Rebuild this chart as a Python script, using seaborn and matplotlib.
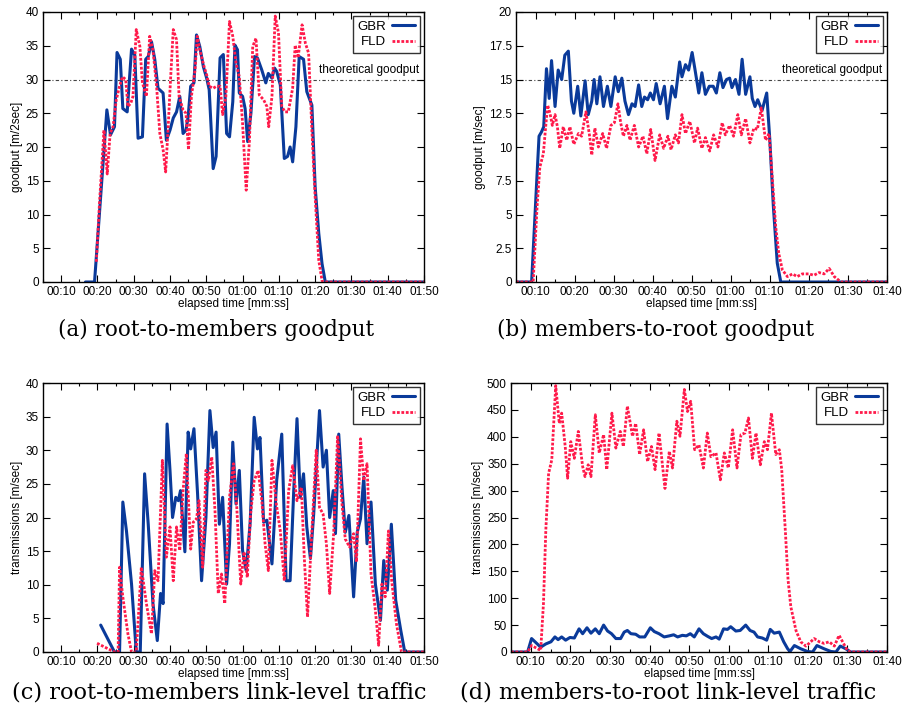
import numpy as np
import pandas as pd
import matplotlib
matplotlib.use("Agg")
import matplotlib.pyplot as plt
import seaborn as sns

# ---------------- data ----------------
# (a) root-to-members goodput
a_gbr_t = [16.7, 19.2, 22.6, 23.6, 24.7, 25.4, 26.3, 27.0, 28.2, 29.4, 30.3, 31.2, 32.4, 33.3, 34.0, 34.9, 35.8,
           36.7, 38.1, 39.0, 40.0, 40.9, 41.8, 42.7, 43.6, 44.4, 45.0, 45.7, 46.6, 47.3, 48.2, 49.2, 50.1, 50.8,
           51.9, 52.7, 53.8, 54.7, 55.6, 56.4, 57.3, 57.9, 58.6, 59.1, 60.0, 60.7, 61.4, 62.3, 63.3, 64.1, 65.3,
           66.4, 67.1, 68.1, 68.8, 69.4, 70.4, 71.5, 72.4, 73.1, 73.8, 74.7, 75.6, 76.8, 77.7, 79.1, 80.0, 81.0,
           81.9, 82.8, 110]
a_gbr_y = [0, 0, 25.5, 21.8, 23, 34, 33, 25.7, 25.2, 34.5, 33.6, 21.3, 21.5, 33, 33.4, 35.6, 33,
           28.7, 28, 21, 22.5, 24.3, 25.2, 27.5, 22, 22.5, 24.5, 29, 29.5, 36.6, 34.9, 31.9, 30.2, 28.5,
           16.8, 18.6, 33.2, 33.7, 22, 21.5, 26.7, 35.1, 34.4, 28, 27.5, 25.7, 20.8, 25, 33.4, 33.2, 31.4,
           29.5, 30.9, 30.2, 31.7, 31.2, 29.2, 18.3, 18.6, 20, 17.8, 23, 33.4, 33, 28.2, 26.2, 14.1, 7.2,
           2.7, 0, 0]
a_fld_t = [19.7, 20.6, 21.8, 22.7, 23.5, 24.3, 25.2, 26.1, 26.9, 27.8, 28.4, 29.2, 29.8, 30.7, 31.7, 32.4, 33.5,
           34.4, 35.3, 36.3, 37.2, 38.1, 38.8, 39.5, 40.1, 40.9, 41.8, 42.5, 43.6, 44.4, 45.1, 45.9, 46.9, 47.5,
           48.2, 49.4, 50.1, 50.8, 51.9, 52.8, 53.8, 54.5, 55.4, 56.4, 57.3, 58.2, 59.1, 60.0, 61.0, 61.9, 62.8,
           63.7, 64.6, 65.8, 66.7, 67.2, 68.1, 69.0, 69.9, 70.8, 71.7, 72.6, 73.8, 74.5, 75.3, 76.4, 77.3, 78.2,
           79.1, 80.0, 81.0, 81.9, 82.3, 110]
a_fld_y = [3, 12, 22.5, 16, 22, 23, 27, 29, 30.4, 30, 26, 26.5, 27.5, 37.4, 34.9, 29.5, 27.5,
           36.4, 34.4, 29, 22, 19.6, 16.3, 23, 29.5, 37.4, 35.9, 27.5, 25.5, 25, 19.6, 27.5, 31.4, 36.4,
           34.4, 31.9, 30.7, 29, 28.7, 29, 29, 24.8, 27.5, 38.6, 36.4, 32.4, 30.4, 23.5, 13.6, 21, 34.9,
           36.1, 27.7, 27, 26, 23, 27.5, 39.4, 36.9, 26, 25.2, 25.2, 28.7, 35.1, 33.2, 38.1, 35.4, 33.9,
           22.5, 12.6, 3.2, 0.2, 0, 0]

# (b) members-to-root goodput
b_gbr_t = [5, 9.0, 10.4, 10.9, 11.5, 12.1, 12.8, 13.5, 14.1, 15.0, 15.8, 16.7, 17.5, 18.4, 19.2, 19.8, 20.8, 21.6,
           22.7, 23.5, 24.4, 25.0, 25.7, 26.5, 27.4, 28.4, 29.3, 30.4, 31.2, 32.1, 32.9, 33.8, 34.7, 35.5, 36.4,
           37.2, 37.9, 38.7, 39.4, 40.2, 40.9, 41.9, 43.0, 43.8, 44.9, 45.8, 46.9, 47.5, 48.4, 49.2, 50.1, 50.8,
           51.8, 52.6, 53.5, 54.5, 55.5, 56.3, 57.2, 58.0, 58.9, 59.7, 60.3, 61.2, 62.1, 62.9, 63.8, 64.9, 65.5,
           66.2, 66.9, 68.0, 69.2, 70.0, 70.9, 71.9, 72.8, 100]
b_gbr_y = [0, 0, 8.0, 10.8, 11.1, 11.5, 15.8, 13.6, 16.4, 13, 15.7, 15, 16.8, 17.1, 13.4, 12.5, 14.5, 12.3,
           14.9, 12.4, 13.4, 15, 13.2, 15.2, 13, 14.5, 13, 15.2, 14.1, 15.1, 13.4, 12.4, 13.2, 13, 14.6,
           13, 13.7, 13.5, 14, 13.5, 14.7, 13.2, 14.5, 12.1, 14.5, 13.7, 16.3, 15.2, 16.1, 15.7, 17, 15.8,
           14, 15.5, 13.9, 14.5, 14.5, 14, 15.5, 14.4, 15, 15.1, 14.4, 15, 13.9, 16.5, 13.9, 15.2, 13.6,
           13, 13.5, 12.7, 14, 10.5, 5.6, 1.4, 0, 0]
b_fld_t = [5, 9.4, 10.4, 11.1, 12.0, 12.6, 13.1, 13.7, 14.3, 15.0, 15.6, 16.2, 17.1, 18.0, 18.8, 19.8, 21.0, 21.8,
           22.9, 23.8, 24.4, 25.2, 26.1, 27.2, 28.2, 29.3, 30.2, 31.1, 31.8, 32.5, 33.4, 34.2, 35.3, 36.4, 37.5,
           38.5, 39.5, 40.6, 41.8, 42.8, 43.9, 44.7, 45.8, 46.6, 47.5, 48.4, 49.5, 50.7, 51.5, 52.6, 53.5, 54.6,
           55.6, 56.7, 57.8, 58.6, 59.7, 60.7, 61.8, 62.7, 63.8, 64.9, 65.9, 66.8, 67.8, 68.9, 69.8, 70.6, 71.5,
           72.3, 73.2, 74.5, 75.8, 77.0, 78.3, 80.0, 81.3, 82.6, 83.9, 85.2, 86.5, 88.2, 100]
b_fld_y = [0, 0, 5.6, 8.5, 9.5, 11.5, 13.1, 12.5, 11.6, 12.4, 11.5, 9.9, 11.5, 10.5, 11.5, 10.2, 11, 10.8,
           12.6, 10.9, 9.4, 11.4, 10, 11, 9.9, 11.6, 11.8, 13.2, 11.8, 10.8, 11.6, 10.5, 11.6, 10, 10.8,
           9.5, 11.3, 9, 10.9, 9.9, 10.8, 9.8, 10.9, 10.3, 12.4, 11, 11.9, 10.3, 11.4, 9.9, 10.7, 9.7,
           10.9, 10, 11.8, 10.9, 11.6, 10.8, 12.4, 10.9, 12.1, 10.3, 11.4, 11.3, 12.9, 10.5, 11, 7.8, 4.1,
           2.1, 0.9, 0.4, 0.6, 0.4, 0.6, 0.6, 0.5, 0.7, 0.6, 1.0, 0.4, 0, 0]

# (c) root-to-members link-level traffic
c_gbr_t = [20.9, 24.7, 26.1, 27.0, 28.0, 29.4, 30.7, 31.8, 33.0, 34.0, 35.3, 36.5, 37.4, 38.1, 39.2, 40.0, 40.7,
           41.6, 42.3, 42.9, 44.1, 45.0, 45.7, 46.6, 47.6, 48.7, 49.9, 51.0, 51.9, 52.7, 53.6, 54.5, 55.6, 56.4,
           57.3, 58.2, 59.1, 60.0, 61.0, 62.1, 63.2, 64.1, 64.8, 65.8, 66.7, 68.1, 69.4, 70.8, 72.0, 73.1, 74.1,
           75.0, 75.9, 76.8, 77.7, 78.7, 79.6, 81.2, 82.2, 83.1, 84.0, 85.0, 85.6, 86.5, 87.4, 88.3, 89.3, 90.6,
           91.6, 92.5, 93.4, 94.3, 95.4, 96.6, 98.0, 98.9, 99.9, 101.0, 102.2, 103.6, 104.7, 110]
c_gbr_y = [4, 0, 0, 22.3, 18, 10.1, 0, 0, 26.5, 19, 7.2, 1.7, 8.7, 7.2, 33.9, 27, 20,
           23, 22.5, 24, 14.9, 32.7, 30.2, 33.2, 23.5, 10.6, 20, 35.9, 30.4, 32.7, 19, 23, 10.1, 16.1,
           31.2, 22, 27, 15.1, 12.1, 19.3, 34.9, 30.2, 31.9, 19.3, 19.6, 13.1, 25.5, 32.4, 10.6, 10.6, 24,
           34.7, 23, 26.5, 18.6, 13.9, 20.5, 35.9, 27.5, 30, 20, 24, 17.6, 32.4, 24.5, 17.8, 20.3, 8.2,
           17.8, 19.8, 26, 16.1, 22.3, 10.1, 4.7, 13.6, 9.2, 19, 7.7, 3.2, 0, 0]
c_fld_t = [19.9, 24.7, 25.7, 26.1, 27.0, 28.4, 29.4, 30.7, 32.1, 33.5, 34.9, 35.8, 36.7, 37.9, 39.0, 40.0, 40.9,
           41.8, 42.7, 43.6, 44.5, 45.7, 46.4, 47.3, 48.0, 49.0, 49.9, 50.6, 51.5, 52.4, 53.3, 54.2, 55.1, 56.4,
           57.5, 58.4, 59.5, 60.4, 61.3, 62.2, 63.2, 64.3, 65.3, 66.2, 67.1, 68.1, 69.3, 70.4, 71.5, 72.7, 73.8,
           75.0, 76.2, 77.0, 77.9, 79.1, 80.3, 81.2, 82.2, 83.1, 84.0, 85.1, 86.2, 87.4, 88.3, 89.5, 90.6, 91.4,
           92.5, 93.4, 94.3, 95.4, 96.6, 97.5, 98.4, 99.3, 100.2, 101.1, 102.4, 103.8, 110]
c_fld_y = [1.3, 0, 0, 12.6, 8.2, 2.7, 0, 0, 12.6, 7.2, 2.7, 12.1, 10.6, 28.5, 14.1, 18.6, 10.6,
           18.6, 15.1, 24, 29.5, 15.3, 19.3, 19.8, 22.5, 12.6, 27, 25.5, 29, 21, 8.7, 11.6, 7.2, 23,
           28, 21.5, 10.1, 14.9, 11.1, 20.5, 25.5, 27, 22.5, 16.1, 12.1, 28.5, 22, 18, 10.6, 24, 27.7,
           22.5, 24.5, 14.1, 5.2, 18, 30, 21.5, 20.5, 16.1, 8.7, 17.6, 32.2, 22, 16.8, 15.6, 17.6, 13.4,
           31.7, 25.5, 28, 11.6, 6.2, 1, 10.1, 8.2, 18, 10.6, 4.2, 0, 0]

# (d) members-to-root link-level traffic
d_gbr_t = [5, 9.2, 10.2, 12.5, 13.8, 15.1, 16.1, 16.9, 17.8, 18.8, 19.9, 21.0, 22.2, 23.1, 24.2, 25.2, 26.3, 27.3,
           28.4, 29.4, 30.4, 31.5, 32.7, 33.6, 34.4, 35.3, 36.5, 37.5, 38.8, 40.2, 41.2, 42.4, 43.7, 45.0, 46.1,
           47.1, 48.3, 49.3, 50.3, 51.3, 52.5, 53.6, 54.7, 55.7, 56.8, 57.6, 58.7, 59.7, 60.5, 61.8, 62.9, 64.3,
           65.4, 66.4, 67.3, 68.5, 69.6, 70.5, 71.5, 72.8, 73.9, 74.9, 75.5, 76.6, 78.2, 79.9, 81.2, 82.3, 84.1,
           85.8, 87.1, 88.2, 89.6, 90.8, 100]
d_gbr_y = [0, 0, 25, 9, 15, 19, 28, 23, 28, 22, 27, 26, 43, 34, 45, 35, 43, 34,
           50, 39, 34, 25, 25, 37, 40, 34, 33, 28, 28, 45, 38, 34, 28, 30, 32,
           28, 31, 30, 34, 28, 43, 34, 29, 25, 28, 24, 43, 42, 47, 39, 40, 50,
           40, 37, 28, 26, 22, 42, 35, 37, 19, 6, 1, 12, 6, 1, 0, 12, 6,
           1, 0, 11, 6, 0, 0]
d_fld_t = [5, 9.2, 10.2, 12.5, 13.2, 13.8, 14.5, 15.3, 16.3, 17.2, 17.8, 18.7, 19.3, 20.1, 21.0, 22.0, 23.1, 23.7,
           24.5, 25.2, 26.3, 27.3, 28.4, 29.2, 30.5, 31.5, 32.6, 33.4, 34.4, 35.7, 36.5, 37.5, 38.5, 39.5, 40.5,
           41.4, 42.4, 43.9, 45.0, 45.8, 46.9, 47.7, 48.8, 49.6, 50.4, 51.4, 52.5, 53.6, 54.6, 55.5, 56.8, 57.9,
           58.9, 59.9, 61.0, 62.1, 63.1, 64.1, 65.0, 66.0, 66.9, 68.0, 69.0, 69.8, 70.8, 71.9, 72.8, 73.4, 74.3,
           75.0, 75.7, 77.0, 78.2, 79.5, 80.3, 81.6, 82.9, 84.1, 85.4, 86.7, 87.9, 89.0, 90.0, 90.8, 100]
d_fld_y = [0, 0, 12, 3, 90, 227, 332, 357, 495, 425, 444, 382, 323, 391, 360, 410, 345, 326,
           348, 326, 441, 370, 404, 339, 444, 379, 410, 382, 457, 401, 425, 367, 413, 354, 382,
           339, 407, 304, 373, 342, 429, 401, 488, 447, 466, 376, 385, 342, 407, 363, 370, 320,
           370, 342, 413, 342, 404, 407, 435, 360, 407, 348, 391, 376, 444, 367, 376, 339, 227,
           134, 84, 40, 19, 11, 16, 25, 19, 16, 19, 11, 31, 16, 3, 0, 0]

series_names = ["GBR", "FLD"]
captions = ["(a) root-to-members goodput", "(b) members-to-root goodput",
            "(c) root-to-members link-level traffic", "(d) members-to-root link-level traffic"]
ylabels = ["goodput [m/2sec]", "goodput [m/sec]", "transmissions [m/sec]", "transmissions [m/sec]"]

a_xticks = [10, 20, 30, 40, 50, 60, 70, 80, 90, 100, 110]
a_xticklabels = ["00:10", "00:20", "00:30", "00:40", "00:50", "01:00", "01:10", "01:20", "01:30", "01:40", "01:50"]
b_xticks = [10, 20, 30, 40, 50, 60, 70, 80, 90, 100]
b_xticklabels = ["00:10", "00:20", "00:30", "00:40", "00:50", "01:00", "01:10", "01:20", "01:30", "01:40"]
ab_yticks40 = [0, 5, 10, 15, 20, 25, 30, 35, 40]
b_yticks = [0, 2.5, 5, 7.5, 10, 12.5, 15, 17.5, 20]
b_yticklabels = ["0", "2.5", "5", "7.5", "10", "12.5", "15", "17.5", "20"]
d_yticks = [0, 50, 100, 150, 200, 250, 300, 350, 400, 450, 500]
theoretical = {"a": 30, "b": 15}

# ---------------- style ----------------
sns.set_style("ticks")
plt.rcParams["font.family"] = ["Liberation Sans", "DejaVu Sans"]
plt.rcParams["axes.linewidth"] = 1.0
for k in ["text.color", "axes.labelcolor", "xtick.color", "ytick.color", "axes.edgecolor"]:
    plt.rcParams[k] = "black"

GBR_COLOR = "#0a3a9a"
FLD_COLOR = "#ff1a4a"

fig = plt.figure(figsize=(9.02, 7.17), dpi=100)
W, H = 902, 717
def rect(l, r, t, b):
    return [l / W, 1 - b / H, (r - l) / W, (b - t) / H]

axA = fig.add_axes(rect(43, 424, 12, 282))
axB = fig.add_axes(rect(516, 887, 12, 282))
axC = fig.add_axes(rect(43, 424, 383, 652))
axD = fig.add_axes(rect(511, 887, 383, 652))

panels = [
    (axA, a_gbr_t, a_gbr_y, a_fld_t, a_fld_y, (5, 110), a_xticks, a_xticklabels, (0, 40), ab_yticks40, None, "a"),
    (axB, b_gbr_t, b_gbr_y, b_fld_t, b_fld_y, (5, 100), b_xticks, b_xticklabels, (0, 20), b_yticks, b_yticklabels, "b"),
    (axC, c_gbr_t, c_gbr_y, c_fld_t, c_fld_y, (5, 110), a_xticks, a_xticklabels, (0, 40), ab_yticks40, None, None),
    (axD, d_gbr_t, d_gbr_y, d_fld_t, d_fld_y, (5, 100), b_xticks, b_xticklabels, (0, 500), d_yticks, None, None),
]

fs = 8.5
for i, (ax, gt, gy, ft, fy, xl, xt, xtl, yl, yt, ytl, key) in enumerate(panels):
    df = pd.concat([
        pd.DataFrame({"t": gt, "v": gy, "s": series_names[0]}),
        pd.DataFrame({"t": ft, "v": fy, "s": series_names[1]}),
    ])
    sns.lineplot(data=df[df.s == "GBR"], x="t", y="v", ax=ax, color=GBR_COLOR, lw=2.2,
                 label="GBR", sort=False, estimator=None)
    sns.lineplot(data=df[df.s == "FLD"], x="t", y="v", ax=ax, color=FLD_COLOR, lw=2.0,
                 label="FLD", sort=False, estimator=None, linestyle=(0, (1.0, 0.6)))
    if key is not None:
        yv = theoretical[key]
        ax.axhline(yv, color="#444444", lw=0.8, linestyle=(0, (1, 2, 3, 2)), zorder=0.5)
        ax.text(xl[1] - (xl[1] - xl[0]) * 0.013, yv + (yl[1] - yl[0]) * 0.012, "theoretical goodput",
                ha="right", va="bottom", fontsize=fs)
    ax.set_xlim(*xl)
    ax.set_ylim(*yl)
    ax.set_xticks(xt)
    ax.set_xticklabels(xtl, fontsize=fs)
    ax.set_xticks(np.arange(xl[0], xl[1] + 0.1, 5), minor=True)
    ax.set_yticks(yt)
    if ytl is not None:
        ax.set_yticklabels(ytl, fontsize=fs)
    else:
        ax.set_yticklabels([str(v) for v in yt], fontsize=fs)
    ax.tick_params(which="major", direction="in", length=5, top=True, right=True, width=0.8, pad=3)
    ax.tick_params(which="minor", direction="in", length=2.5, top=True, right=False, width=0.8)
    ax.tick_params(axis="y", which="minor", left=False, right=False)
    ax.set_xlabel("elapsed time [mm:ss]", fontsize=fs, labelpad=0)
    ax.set_ylabel(ylabels[i], fontsize=fs, labelpad=2)
    for sp in ax.spines.values():
        sp.set_visible(True)
        sp.set_color("black")
    leg = ax.legend(loc="upper right", fontsize=fs + 1, frameon=True, fancybox=False, markerfirst=False,
                    handlelength=1.8, handletextpad=0.4, borderpad=0.35, labelspacing=0.25,
                    borderaxespad=0.3)
    leg.get_frame().set_edgecolor("black")
    leg.get_frame().set_linewidth(1.0)

cap_y_top = 1 - 330 / H
cap_y_bot = 1 - 692 / H
fig.text(216 / W, cap_y_top, captions[0], ha="center", va="center", fontsize=15.5, family="DejaVu Serif")
fig.text(656 / W, cap_y_top, captions[1], ha="center", va="center", fontsize=15.5, family="DejaVu Serif")
fig.text(219 / W, cap_y_bot, captions[2], ha="center", va="center", fontsize=16.2, family="DejaVu Serif")
fig.text(668 / W, cap_y_bot, captions[3], ha="center", va="center", fontsize=16.2, family="DejaVu Serif")

fig.savefig("out.png", dpi=100, facecolor="white")
